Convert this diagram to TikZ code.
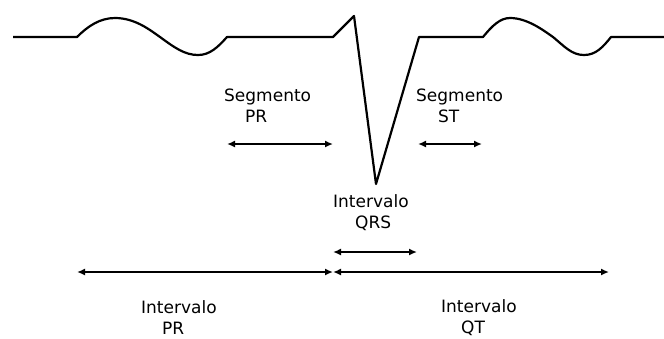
\documentclass[tikz,border=0pt]{standalone}
\usepackage{fontspec}
\setmainfont{DejaVu Sans}
\usepackage{tikz}
\usetikzlibrary{arrows.meta,positioning,calc}

\begin{document}
\begin{tikzpicture}[x=1pt, y=-1pt,
  trace/.style={line width=2.2pt, line join=round},
  span/.style={line width=2pt, {Latex[length=8pt,width=7pt]}-{Latex[length=8pt,width=7pt]}},
  lbl/.style={align=left, anchor=west, inner sep=0pt, font=\fontsize{17}{21}\selectfont}]
\useasboundingbox (0,0) rectangle (664,338);

% ECG trace
\draw[trace] (13,37) -- (77,37)
  .. controls (88,26) and (100,18) .. (115,18)
  .. controls (135,18) and (150,30) .. (160,37)
  .. controls (175,48) and (185,55) .. (198,55)
  .. controls (210,55) and (218,47) .. (227,37)
  -- (333,37) -- (354,16) -- (376,184) -- (419,37) -- (483,37)
  .. controls (492,26) and (500,18) .. (510,18)
  .. controls (527,18) and (543,30) .. (553,37)
  .. controls (565,47) and (572,55) .. (584,55)
  .. controls (596,55) and (603,47) .. (611,37)
  -- (664,37);

% Ends of the spans
\coordinate (prs-l) at (227,144);
\coordinate (prs-r) at (333,144);
\coordinate (sts-l) at (418,144);
\coordinate (sts-r) at (482,144);
\coordinate (qrs-l) at (333,252);
\coordinate (qrs-r) at (417,252);
\coordinate (pri-l) at (77,272);
\coordinate (mid) at (333,272);
\coordinate (qti-r) at (609,272);

% Spans
\draw[span] (prs-l) -- (prs-r);
\draw[span] (sts-l) -- (sts-r);
\draw[span] (qrs-l) -- (qrs-r);
\draw[span] (pri-l) -- (mid);
\draw[span] (mid) -- (qti-r);

% Labels
\node[lbl] (segpr) at (224,106) {Segmento\\\hspace*{21pt}PR};
\node[lbl] (segst) at (416,106) {Segmento\\\hspace*{22pt}ST};
\node[lbl] (intqrs) at (333,213) {Intervalo\\\hspace*{22pt}QRS};
\node[lbl] (intpr) at (141,318) {Intervalo\\\hspace*{21pt}PR};
\node[lbl] (intqt) at (441,318) {Intervalo\\\hspace*{20pt}QT};

\end{tikzpicture}
\end{document}
